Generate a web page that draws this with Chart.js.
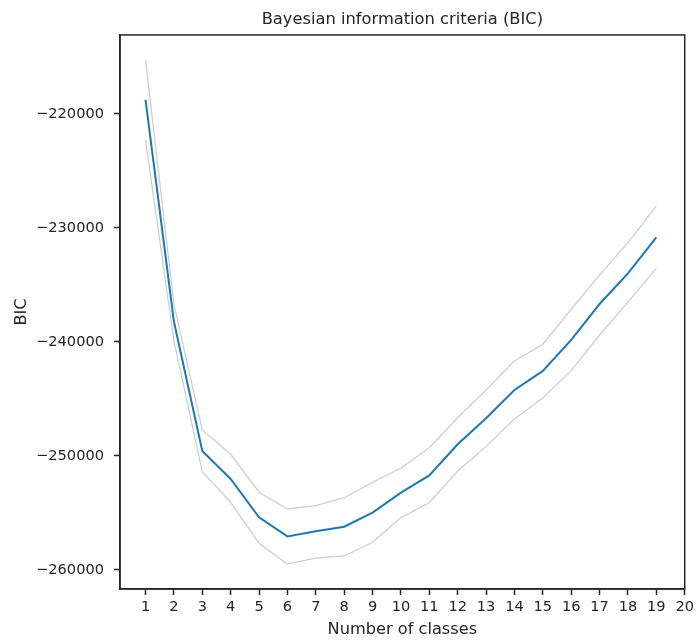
<!DOCTYPE html>
<html>
<head>
<meta charset="utf-8">
<script src="https://cdn.jsdelivr.net/npm/chart.js@4/dist/chart.umd.min.js"></script>
<style>
  html,body{margin:0;padding:0;background:#fff;}
  #wrap{width:697px;height:640px;}
</style>
</head>
<body>
<div id="wrap"><canvas id="bic"></canvas></div>
<script>
const classes = [1,2,3,4,5,6,7,8,9,10,11,12,13,14,15,16,17,18,19];
const bicMean = [-218770,-238200,-249560,-252020,-255380,-257050,-256610,-256200,-254970,-253220,-251700,-248970,-246690,-244210,-242540,-239820,-236670,-233980,-230820];
const bicUpper = [-215260,-236700,-247720,-249850,-253180,-254650,-254360,-253660,-252310,-251080,-249270,-246640,-244210,-241670,-240200,-237130,-234120,-231290,-228070];
const bicLower = [-222280,-239900,-251380,-254060,-257660,-259470,-258950,-258770,-257570,-255400,-254100,-251320,-249180,-246750,-244900,-242510,-239390,-236510,-233540];
const xTicks = [1,2,3,4,5,6,7,8,9,10,11,12,13,14,15,16,17,18,19,20];
const yTicks = [-260000,-250000,-240000,-230000,-220000];

const pts = arr => classes.map((c,i)=>({x:c,y:arr[i]}));
const FONT = "'DejaVu Sans', sans-serif";
const INK = "#262626";

// matplotlib-style closed frame round the plot area
const frame = {
  id:"frame",
  afterDatasetsDraw(chart){
    const a=chart.chartArea, ctx=chart.ctx;
    ctx.save(); ctx.strokeStyle=INK; ctx.lineWidth=1.5;
    ctx.strokeRect(a.left, a.top, a.right-a.left, a.bottom-a.top);
    ctx.restore();
  }
};

new Chart(document.getElementById("bic"), {
  type:"line",
  data:{ datasets:[
    {label:"upper", data:pts(bicUpper), borderColor:"#cfcfcf", borderWidth:1.3, pointRadius:0, tension:0, fill:false},
    {label:"lower", data:pts(bicLower), borderColor:"#cfcfcf", borderWidth:1.3, pointRadius:0, tension:0, fill:false},
    {label:"BIC", data:pts(bicMean), borderColor:"#1f77b4", borderWidth:2, pointRadius:0, tension:0, fill:false}
  ]},
  options:{
    responsive:true, maintainAspectRatio:false, animation:false,
    layout:{padding:{top:0,right:10,left:0,bottom:0}},
    plugins:{
      legend:{display:false}, tooltip:{enabled:false},
      title:{display:true, fullSize:false, text:"Bayesian information criteria (BIC)", color:INK,
        font:{family:FONT,size:16.3,weight:"normal",lineHeight:1.2}, padding:{top:9.5,bottom:5.9}}
    },
    scales:{
      x:{ type:"linear", min:0.1, max:20,
        afterBuildTicks: s=>{ s.ticks = xTicks.map(v=>({value:v})); },
        afterFit: s=>{ s.height = 51; },
        grid:{drawOnChartArea:false, drawTicks:true, tickLength:6, tickColor:INK, tickWidth:1.5},
        border:{display:true, color:INK, width:1.5},
        ticks:{color:INK, font:{family:FONT,size:14.6}, padding:3, maxRotation:0, autoSkip:false},
        title:{display:true, text:"Number of classes", color:INK, font:{family:FONT,size:16.2}, padding:{top:2,bottom:0}}
      },
      y:{ type:"linear", min:-261667, max:-213070,
        afterBuildTicks: s=>{ s.ticks = yTicks.map(v=>({value:v})); },
        afterFit: s=>{ s.width = 120; },
        grid:{drawOnChartArea:false, drawTicks:true, tickLength:6, tickColor:INK, tickWidth:1.5},
        border:{display:true, color:INK, width:1.5},
        ticks:{color:INK, font:{family:FONT,size:14.6}, padding:10, autoSkip:false,
          callback: v => String(v).replace("-","\u2212")},
        title:{display:true, text:"BIC", color:INK, font:{family:FONT,size:16.2}, padding:{top:12,bottom:0}}
      }
    }
  },
  plugins:[frame]
});
</script>
</body>
</html>
